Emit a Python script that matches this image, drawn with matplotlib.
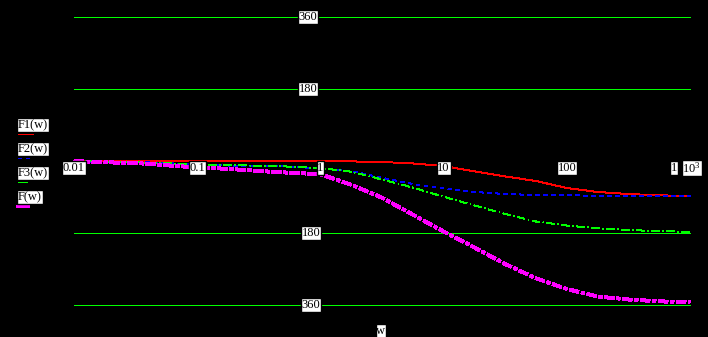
import matplotlib
matplotlib.use("Agg")
import matplotlib.pyplot as plt
from matplotlib.lines import Line2D
import numpy as np

plt.rcParams['font.family'] = ['Liberation Serif', 'DejaVu Serif']
plt.rcParams['mathtext.fontset'] = 'custom'
plt.rcParams['mathtext.rm'] = 'Liberation Serif'
plt.rcParams['lines.antialiased'] = False

# frequency grid, quarter decades from 0.01 to 1000
w = [0.01, 0.0178, 0.0316, 0.0562, 0.1, 0.178, 0.316, 0.562, 1.0, 1.78, 3.16,
     5.62, 10.0, 17.8, 31.6, 56.2, 100.0, 178.0, 316.0, 562.0, 1000.0]

# phase (degrees)
F1 = [0, 0, 0, 0, 0, 0, 0, -0.5, -1, -1, -2.5, -6, -12.5, -26, -38.5, -50,
      -67.5, -77.5, -82.5, -86, -87]
F2 = [-1.25, -1.75, -2, -5, -8.75, -11.25, -12, -13.75, -18.75, -25, -41.75,
      -57.5, -68.75, -77.5, -82.5, -85, -85, -87.5, -87.5, -87.5, -87.5]
F3 = [-0.5, -1.75, -3, -5.5, -8.25, -10, -11.75, -14, -17.5, -26.75, -46.25,
      -66.25, -89.5, -111.25, -132.5, -151.25, -161.25, -168.25, -172.5,
      -175.5, -176.75]
F = [0, -3.25, -5, -10.75, -16.25, -19.5, -25, -29.25, -33.25, -59.25, -91.75,
     -134, -176.25, -216.25, -257.5, -293.25, -320, -338.75, -346.25,
     -350.75, -353.75]

grid_y = [360, 180, -180, -360]
grid_lbl = ["360", "180", "180", "360"]
grid_lbl_w = [0.793, 0.793, 0.84, 0.84]
xticks = [0.01, 0.1, 1, 10, 100]
xtick_lbl = ["0.01", "0.1", "1", "10", "100"]

W, H = 708, 337
fig = plt.figure(figsize=(W / 100, H / 100), dpi=100)
fig.patch.set_facecolor('black')
ax = fig.add_axes([0, 0, 1, 1])
ax.set_facecolor('black')
ax.set_xscale('log')
ax.set_xlim(10 ** -2.6006, 10 ** 3.146)
ax.set_ylim(-440, 402.5)
ax.axis('off')

box = dict(facecolor='white', edgecolor='black', linewidth=1, pad=0.5)
fs = 9
px = 0.72  # one pixel in points

for gy, gl, gw in zip(grid_y, grid_lbl, grid_lbl_w):
    ax.plot([0.01, 1000], [gy, gy], color='#00ff00', lw=px)
    ax.text(gw, gy, gl, ha='center', va='center', fontsize=fs, bbox=box, zorder=5)

for xt, xl in zip(xticks, xtick_lbl):
    ax.text(xt, -17.5, xl, ha='center', va='center', fontsize=fs, bbox=box, zorder=5)
ax.text(745, -17.5, "1", ha='center', va='center', fontsize=fs, bbox=box, zorder=5)
ax.text(1030, -17.5, r"$\mathregular{10^3}$", ha='center', va='center',
        fontsize=fs, bbox=box, zorder=5)
ax.text(3.1, -425, "w", ha='center', va='center', fontsize=fs, bbox=box, zorder=5)

ax.plot(w, F1, color='red', lw=px)
ax.plot(w, F2, color='blue', lw=px, ls=(0, (4, 5)))
ax.plot(w, F3, color='#00ff00', lw=px, ls=(0, (7, 3, 1, 3)))
ax.plot(w, F, color='magenta', lw=3 * px, ls=(0, (3.3, 0.7, 1, 0.7)),
        dash_capstyle='butt')

# legend, label above its line key
leg = [("F1(w)", 125, 'red', px, '-', 18, 33),
       ("F2(w)", 149, 'blue', px, (0, (4, 5)), 18, 33),
       ("F3(w)", 173, '#00ff00', px, '-', 18, 27),
       ("F(w)", 197, 'magenta', 3 * px, '-', 17, 28)]
for txt, ty, c, lw, ls, x1, x2 in leg:
    fig.text(18 / W, 1 - ty / H, txt, ha='left', va='center', fontsize=fs,
             bbox=box)
    fig.add_artist(Line2D([x1 / W, x2 / W], [1 - (ty + 8.5) / H] * 2,
                          transform=fig.transFigure, color=c, lw=lw, ls=ls))

fig.savefig('out.png', dpi=100, facecolor='black')
